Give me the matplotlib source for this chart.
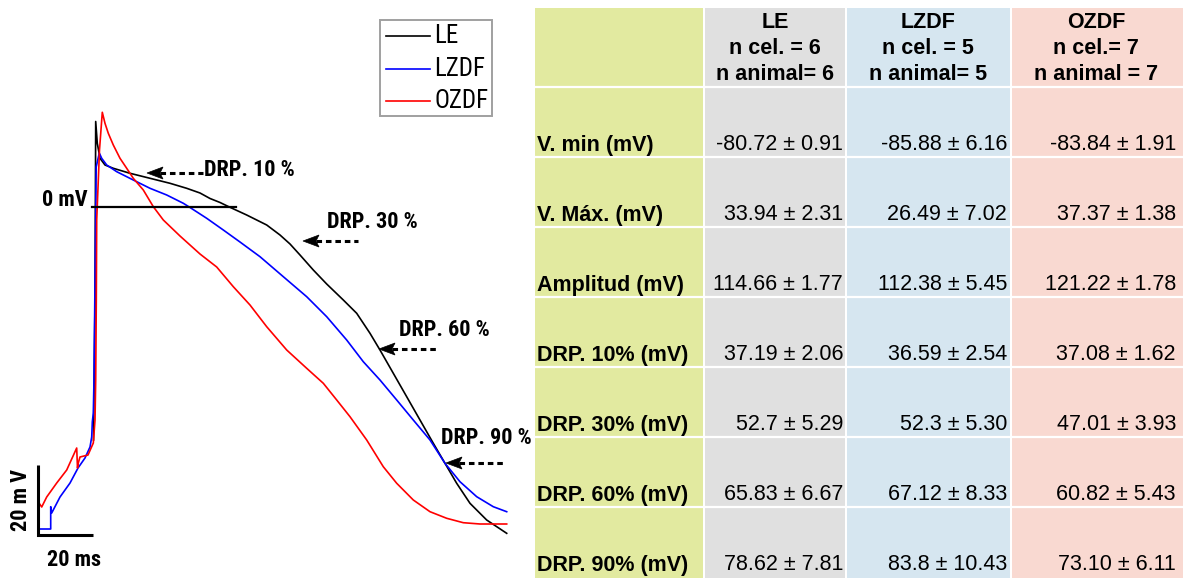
import matplotlib
matplotlib.use("Agg")
import matplotlib.pyplot as plt
from matplotlib import font_manager
from matplotlib.patches import Rectangle, Polygon

# ---- Action potential traces: time (ms) and membrane potential (mV) ----
le_t = [20.18, 20.73, 20.98, 21.56, 22.55, 24.36, 27.38, 33.45, 40.73, 48.0,
        54.07, 58.91, 62.55, 66.18, 69.82, 75.89, 83.16, 88.0, 91.64, 95.27,
        100.11, 104.98, 111.02, 115.89, 120.73, 124.36, 129.2, 134.07,
        138.91, 143.75, 148.0, 152.25, 157.09, 163.16, 170.44]
le_v = [-66.57, -26.57, 24.43, 18.2, 13.91, 12.0, 11.06, 9.63, 8.2, 6.77,
        5.34, 4.0, 2.43, 1.29, -0.09, -2.29, -5.14, -8.0, -10.57, -13.71,
        -18.0, -22.0, -26.57, -30.37, -36.09, -40.86, -47.51, -54.2,
        -60.86, -67.51, -73.23, -78.94, -84.66, -89.43, -93.23]

lzdf_t = [0.0, 4.62, 4.62, 4.98, 8.0, 11.64, 14.55, 17.09, 18.91, 19.53,
          19.75, 20.11, 20.36, 20.84, 21.16, 22.29, 23.16, 24.98, 28.62,
          34.65, 40.73, 46.8, 52.84, 55.27, 61.35, 67.38, 73.45, 80.73,
          89.2, 97.71, 104.98, 112.25, 118.29, 124.36, 130.44, 136.47,
          142.55, 148.0, 153.45, 159.53, 165.56, 170.44]
lzdf_v = [-92.0, -92.0, -85.63, -87.43, -82.86, -78.86, -74.57, -71.71,
          -68.57, -65.71, -61.43, -58.86, -49.43, -12.29, 11.43, 15.43,
          13.91, 12.0, 10.09, 7.71, 5.34, 3.43, 1.06, -0.14, -3.23, -6.57,
          -10.0, -14.2, -19.91, -25.63, -31.34, -38.0, -44.2, -49.43,
          -55.14, -60.86, -66.57, -73.23, -78.49, -82.77, -85.63, -87.06]

ozdf_t = [0.18, 0.36, 1.35, 3.16, 6.80, 10.44, 14.07, 14.36, 14.65, 15.27,
          18.18, 20.11, 20.73, 20.98, 21.2, 21.35, 22.36, 23.38, 24.36,
          25.56, 27.38, 29.82, 32.25, 34.65, 38.29, 41.93, 45.56, 51.64,
          58.91, 64.98, 71.02, 77.09, 83.16, 90.44, 97.71, 103.75, 108.62,
          113.45, 119.53, 125.56, 130.44, 136.47, 142.55, 148.62, 154.65,
          160.73, 170.44]
ozdf_v = [-91.43, -84.57, -85.71, -82.86, -78.86, -75.14, -68.86, -74.57,
          -73.14, -71.43, -70.86, -67.43, -60.86, -49.43, -26.57, -3.71,
          16.29, 27.06, 23.91, 21.06, 17.71, 13.91, 11.06, 8.2, 4.86, 0.09,
          -3.71, -8.29, -13.43, -17.14, -22.77, -28.0, -34.2, -40.86,
          -46.09, -50.37, -55.14, -59.91, -66.57, -74.2, -78.94, -83.71,
          -87.06, -88.94, -90.2, -90.57, -90.57]

series_names = ["LE", "LZDF", "OZDF"]
series_colors = ["#000000", "#0000FF", "#FF0000"]

# ---- Summary table ----
col_headers = ["LE\nn cel. = 6\nn animal= 6",
               "LZDF\nn cel. = 5\nn animal= 5",
               "OZDF\nn cel.= 7\nn animal = 7"]
row_labels = ["V. min (mV)", "V. Máx. (mV)", "Amplitud (mV)", "DRP. 10% (mV)",
              "DRP. 30% (mV)", "DRP. 60% (mV)", "DRP. 90% (mV)"]
le_mean = ["-80.72", "33.94", "114.66", "37.19", "52.7", "65.83", "78.62"]
le_sem = ["0.91", "2.31", "1.77", "2.06", "5.29", "6.67", "7.81"]
lzdf_mean = ["-85.88", "26.49", "112.38", "36.59", "52.3", "67.12", "83.8"]
lzdf_sem = ["6.16", "7.02", "5.45", "2.54", "5.30", "8.33", "10.43"]
ozdf_mean = ["-83.84", "37.37", "121.22", "37.08", "47.01", "60.82", "73.10"]
ozdf_sem = ["1.91", "1.38", "1.78", "1.62", "3.93", "5.43", "6.11"]

drp_labels = ["DRP. 10 %", "DRP. 30 %", "DRP. 60 %", "DRP. 90 %"]

# ---- fonts ----
available = {f.name for f in font_manager.fontManager.ttflist}
SANS = "Liberation Sans" if "Liberation Sans" in available else "DejaVu Sans"
NARROW, narrow_scale = SANS, 0.85
for cand in ["Liberation Sans Narrow", "Roboto Condensed", "Open Sans Condensed"]:
    if cand in available:
        NARROW, narrow_scale = cand, 1.0
        break

plt.rcParams["lines.scale_dashes"] = False

W, H = 1185, 580
fig = plt.figure(figsize=(W / 100, H / 100), dpi=100)
fig.patch.set_facecolor("white")

# ---- trace panel ----
ax = fig.add_axes([0, 0, 535 / W, 1])
ax.set_xlim(-13.82, 180.73)
ax.set_ylim(-106.57, 59.14)
ax.axis("off")

for t, v, c, name in zip([le_t, lzdf_t, ozdf_t], [le_v, lzdf_v, ozdf_v],
                         series_colors, series_names):
    ax.plot(t, v, color=c, lw=1.2, label=name, solid_joinstyle="round")

# 0 mV reference
ax.plot([19.6, 72.0], [0, 0], color="black", lw=1.6)
# scale bars: 20 mV / 20 ms
ax.plot([0, 0, 20], [-73.71, -93.71, -93.71], color="black", lw=2.2,
        solid_capstyle="butt", solid_joinstyle="miter")

# ---- overlay in pixel coordinates ----
ov = fig.add_axes([0, 0, 1, 1])
ov.set_xlim(0, W)
ov.set_ylim(H, 0)
ov.axis("off")

bold_narrow = dict(family=NARROW, weight="bold", size=16 * narrow_scale)
ov.text(88, 200, "0 mV", ha="right", va="center", **bold_narrow)
ov.text(21, 500, "20 m V", ha="center", va="center", rotation=90, **bold_narrow)
ov.text(74, 560, "20 ms", ha="center", va="center", **bold_narrow)

# DRP annotations: label position, arrow tip, dashed tail end
drp_text_xy = [(204, 170), (327, 222), (399, 330), (441, 438)]
drp_tip = [(147, 173), (303, 241), (379, 349), (446, 463)]
drp_tail = [203, 358, 436, 503]
for lab, (tx, ty), (ax_, ay), ex in zip(drp_labels, drp_text_xy, drp_tip, drp_tail):
    ov.text(tx, ty, lab, ha="left", va="center", **bold_narrow)
    ov.plot([ax_ + 13, ex], [ay, ay], color="black", lw=2.2, dashes=(4.0, 2.8),
            solid_capstyle="butt", dash_capstyle="butt")
    ov.add_patch(Polygon([(ax_, ay), (ax_ + 16, ay - 6), (ax_ + 13, ay),
                          (ax_ + 16, ay + 6)], closed=True,
                         facecolor="black", edgecolor="black", lw=0.5))

# legend box
ov.add_patch(Rectangle((380, 20), 112, 96, facecolor="white",
                       edgecolor="#a0a0a0", lw=1.4))
for i, (name, c) in enumerate(zip(series_names, series_colors)):
    y = 36 + i * 32.5
    ov.plot([386, 430], [y, y], color=c, lw=1.2)
    ov.text(434, y, name, ha="left", va="center", family=NARROW,
            size=18 * narrow_scale)

# ---- table ----
col_edges = [(535, 703), (705, 845), (847, 1010), (1012, 1183)]
col_colors = ["#E2EAA0", "#E0E0E0", "#D6E6F0", "#F9D9D1"]
top, bottom = 8, 578
for (x0, x1), c in zip(col_edges, col_colors):
    ov.add_patch(Rectangle((x0, top), x1 - x0, bottom - top, facecolor=c,
                           edgecolor="none"))
row_seps = [87, 157, 227, 297, 367, 437, 507]
for ys in row_seps:
    ov.plot([535, 1183], [ys, ys], color="white", lw=1.6)

header_centers = [775, 928, 1096]
for xc, hdr in zip(header_centers, col_headers):
    ov.text(xc, 48.5, hdr, ha="center", va="center", family=SANS,
            weight="bold", size=15.5, linespacing=1.32)

means = [le_mean, lzdf_mean, ozdf_mean]
sems = [le_sem, lzdf_sem, ozdf_sem]
value_right = [843, 1007, 1176]
for r, lab in enumerate(row_labels):
    yc = row_seps[r] + 58
    ov.text(537, yc, lab, ha="left", va="center", family=SANS,
            weight="bold", size=15.5)
    for m, s, xr in zip(means, sems, value_right):
        ov.text(xr, yc, f"{m[r]} ± {s[r]}", ha="right", va="center",
                family=SANS, size=15.5)

fig.savefig("out.png", dpi=100)
